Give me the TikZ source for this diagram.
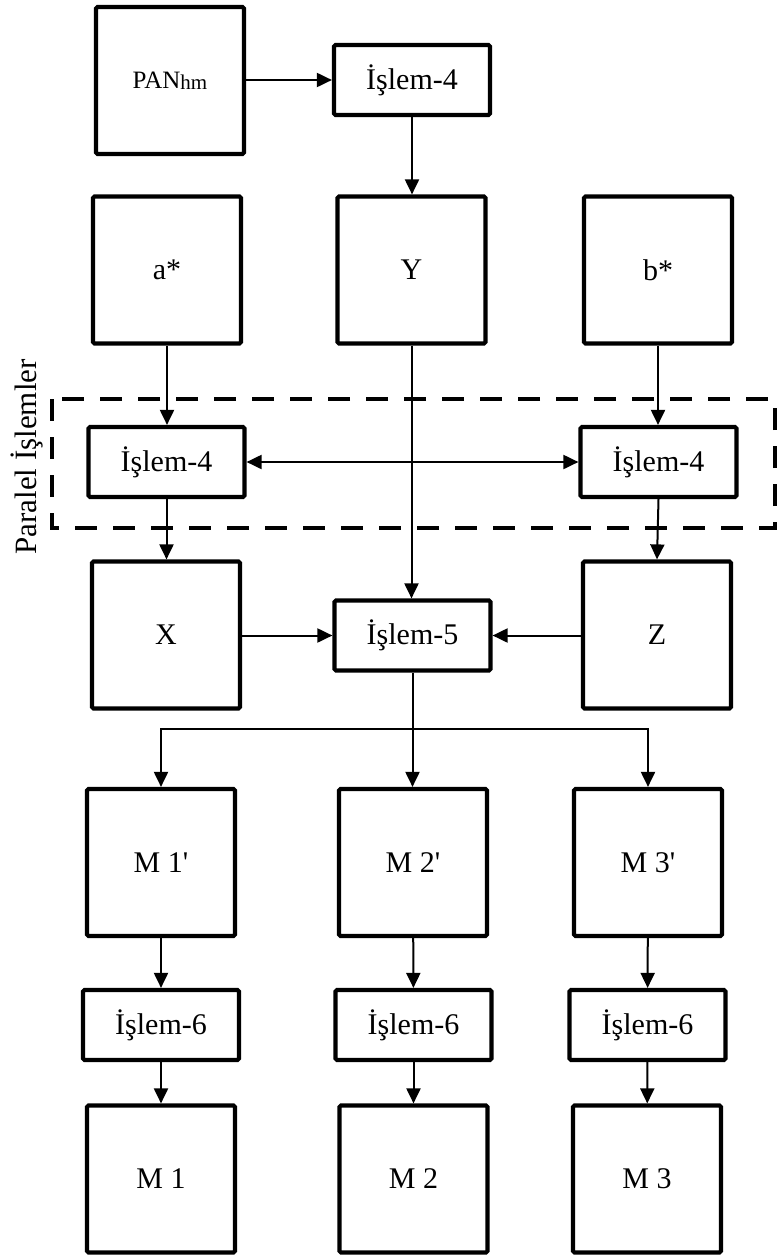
\documentclass[tikz,border=0pt]{standalone}
\usepackage{fontspec}
\setmainfont{Liberation Serif}
\usetikzlibrary{arrows.meta}

\begin{document}
\begin{tikzpicture}[x=1pt,y=-1pt,
  block/.style={draw, line width=4.2pt, rounded corners=1.5pt, inner sep=0pt,
    align=center, font=\fontsize{30}{36}\selectfont},
  bigbox/.style={block, minimum width=148pt, minimum height=147pt},
  procbox/.style={block, minimum width=156pt, minimum height=70pt},
  link/.style={line width=2pt, -{Triangle[length=15pt,width=14pt]}},
  twoway/.style={line width=2pt,
    {Triangle[length=15pt,width=14pt]}-{Triangle[length=15pt,width=14pt]}},
  groupframe/.style={line width=4.2pt, dash pattern=on 22pt off 16pt}
]
\useasboundingbox (0,0) rectangle (778,1258);

% parallel-processing frame and its caption
\draw[groupframe] (52,399) rectangle (775,528);
\node[rotate=90, font=\fontsize{31}{36}\selectfont] (parlabel) at (27,457) {Paralel İşlemler};

% top row
\node[bigbox] (pan) at (170,80.5)
  {{\fontsize{25}{30}\selectfont PAN}\raisebox{-1pt}{\fontsize{21}{25}\selectfont hm}};
\node[procbox] (p4top) at (412,80) {İşlem-4};

% channels
\node[bigbox] (astar) at (167,270) {a*};
\node[bigbox] (Y)     at (411.5,270) {Y};
\node[bigbox] (bstar) at (658,270) {b*};

\node[procbox] (p4l) at (166.5,462) {İşlem-4};
\node[procbox] (p4r) at (658.5,462) {İşlem-4};

\node[bigbox]  (X)  at (166,635) {X};
\node[procbox] (p5) at (412.5,635.5) {İşlem-5};
\node[bigbox]  (Z)  at (657,635) {Z};

% outputs
\node[bigbox] (m1p) at (161,862.5) {M 1\textquotesingle};
\node[bigbox] (m2p) at (413,862.5) {M 2\textquotesingle};
\node[bigbox] (m3p) at (648,862.5) {M 3\textquotesingle};

\node[procbox] (p6a) at (161,1025) {İşlem-6};
\node[procbox] (p6b) at (413.5,1025) {İşlem-6};
\node[procbox] (p6c) at (647.5,1025) {İşlem-6};

\node[bigbox] (m1) at (161,1179) {M 1};
\node[bigbox] (m2) at (413.5,1179) {M 2};
\node[bigbox] (m3) at (647,1179) {M 3};

% connectors
\draw[link] (pan.east |- p4top) -- (p4top.west);
\draw[link] (p4top.south) -- (p4top.south |- Y.north);
\draw[link] (astar.south) -- (astar.south |- p4l.north);
\draw[link] (bstar.south) -- (bstar.south |- p4r.north);
\draw[twoway] (p4l) -- (p4r);
\draw[link] (p4l.south) -- (p4l.south |- X.north);
\draw[link] (p4r.south) -- (Z.north);
\draw[link] (Y.south) -- (Y.south |- p5.north);
\draw[link] (X.east |- p5) -- (p5.west);
\draw[link] (Z.west |- p5) -- (p5.east);

\coordinate (fork) at (412.5,729);
\draw[link] (p5.south) -- (p5.south |- m2p.north);
\draw[link] (fork) -| (m1p);
\draw[link] (fork) -| (m3p);

\draw[link] (m1p) -- (p6a);
\draw[link] (m2p) -- (p6b);
\draw[link] (m3p) -- (p6c);
\draw[link] (p6a) -- (m1);
\draw[link] (p6b) -- (m2);
\draw[link] (p6c) -- (m3);
\end{tikzpicture}
\end{document}
